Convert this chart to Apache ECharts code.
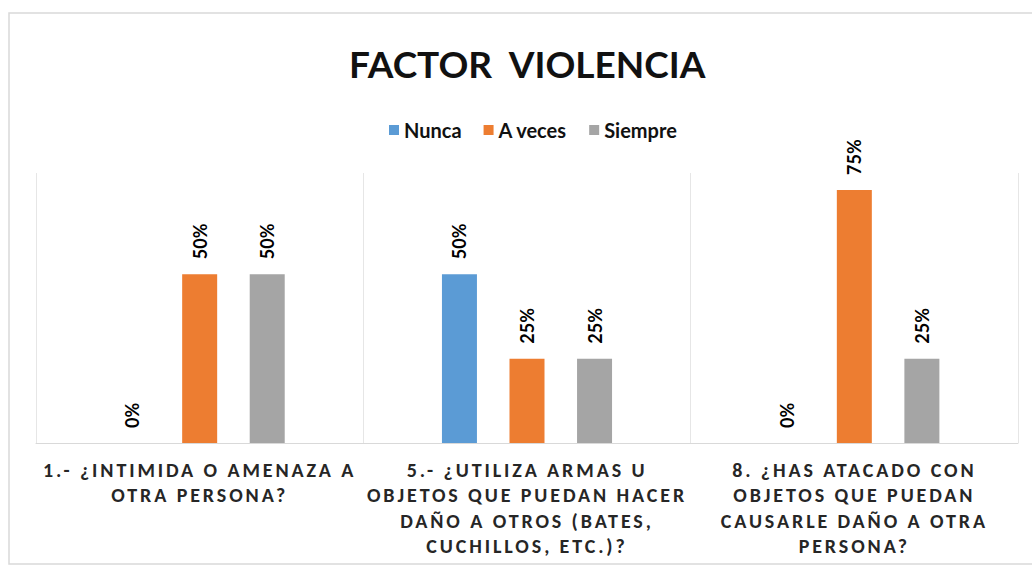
<!DOCTYPE html>
<html>
<head>
<meta charset="utf-8">
<script src="https://cdn.jsdelivr.net/npm/echarts@6/dist/echarts.min.js"></script>
<style>
  html, body { margin: 0; padding: 0; background: #fff; }
  #main { width: 1032px; height: 570px; }
  /* category labels in the original are letter-spaced */
  #main text[style*="Calibri"] { letter-spacing: 2.9px; }
</style>
</head>
<body>
<div id="main"></div>
<script>
var categories = [
  '1.- ¿INTIMIDA O AMENAZA A\nOTRA PERSONA?',
  '5.- ¿UTILIZA ARMAS U\nOBJETOS QUE PUEDAN HACER\nDAÑO A OTROS (BATES,\nCUCHILLOS, ETC.)?',
  '8. ¿HAS ATACADO CON\nOBJETOS QUE PUEDAN\nCAUSARLE DAÑO A OTRA\nPERSONA?'
];
var nunca = [0, 50, 0];
var aVeces = [50, 25, 75];
var siempre = [50, 25, 25];

var myChart = echarts.init(document.getElementById('main'), null, { renderer: 'svg' });

function barSeries(name, data, color) {
  return {
    name: name,
    type: 'bar',
    data: data,
    barWidth: 35,
    barGap: '93%',
    itemStyle: { color: color },
    label: {
      show: true,
      position: 'top',
      rotate: 90,
      align: 'left',
      verticalAlign: 'middle',
      distance: 15,
      formatter: '{c}%',
      color: '#000',
      fontFamily: 'Lato',
      fontWeight: 'bold',
      fontSize: 18
    }
  };
}

var option = {
  backgroundColor: '#fff',
  animation: false,
  title: {
    text: 'FACTOR  VIOLENCIA',
    left: 344,
    top: 40,
    textStyle: {
      fontFamily: 'Lato',
      fontWeight: 'bold',
      fontSize: 37,
      color: '#111'
    }
  },
  legend: {
    top: 115,
    left: 384,
    icon: 'rect',
    itemWidth: 10,
    itemHeight: 10,
    itemGap: 22,
    textStyle: {
      fontFamily: 'Lato',
      fontWeight: 'bold',
      fontSize: 20,
      color: '#111'
    }
  },
  graphic: [{
    type: 'rect',
    shape: { x: 9, y: 13, width: 1040, height: 551 },
    style: { fill: 'none', stroke: '#d9d9d9', lineWidth: 1.5 },
    silent: true
  }],
  grid: {
    left: 36,
    right: 14,
    top: 173,
    bottom: 127
  },
  xAxis: {
    type: 'category',
    data: categories,
    axisTick: { show: false },
    axisLine: { lineStyle: { color: '#d9d9d9' } },
    splitLine: { show: true, lineStyle: { color: '#e6e6e6' } },
    axisLabel: {
      interval: 0,
      margin: 14,
      lineHeight: 25.5,
      fontFamily: 'Calibri, Lato',
      fontWeight: 'bold',
      fontSize: 20,
      color: '#262626'
    }
  },
  yAxis: {
    type: 'value',
    min: 0,
    max: 80,
    show: false
  },
  series: [
    barSeries('Nunca', nunca, '#5B9BD5'),
    barSeries('A veces', aVeces, '#ED7D31'),
    barSeries('Siempre', siempre, '#A5A5A5')
  ]
};

myChart.setOption(option);
</script>
</body>
</html>
